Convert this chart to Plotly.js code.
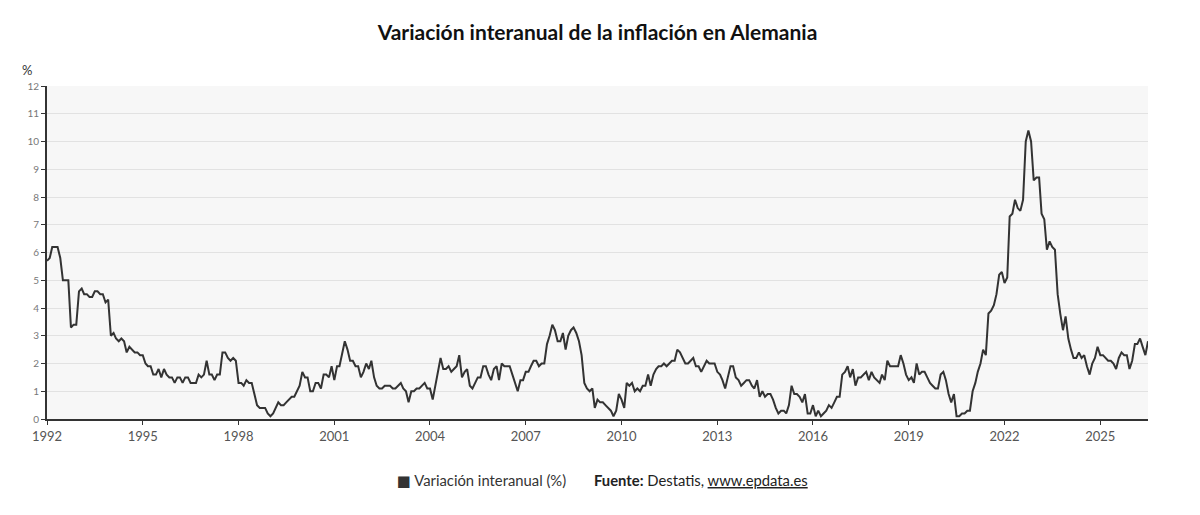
<!DOCTYPE html>
<html>
<head>
<meta charset="utf-8">
<script src="https://cdn.plot.ly/plotly-3.0.1.min.js"></script>
<style>
  html, body { margin: 0; padding: 0; background: #ffffff; }
  #chart { width: 1200px; height: 515px; }
</style>
</head>
<body>
<div id="chart"></div>
<script>
// Monthly series, January 1992 onwards (one row per year)
const startYear = 1992;
const inflacion = [
  5.7, 5.8, 6.2, 6.2, 6.2, 5.8, 5.0, 5.0, 5.0, 3.3, 3.4, 3.4, // 1992
  4.6, 4.7, 4.5, 4.5, 4.4, 4.4, 4.6, 4.6, 4.5, 4.5, 4.2, 4.3, // 1993
  3.0, 3.1, 2.9, 2.8, 2.9, 2.8, 2.4, 2.6, 2.5, 2.4, 2.4, 2.3, // 1994
  2.3, 2.0, 1.9, 1.9, 1.6, 1.6, 1.8, 1.5, 1.8, 1.6, 1.5, 1.5, // 1995
  1.3, 1.5, 1.5, 1.3, 1.5, 1.5, 1.3, 1.3, 1.3, 1.6, 1.5, 1.6, // 1996
  2.1, 1.6, 1.6, 1.4, 1.6, 1.6, 2.4, 2.4, 2.2, 2.1, 2.2, 2.1, // 1997
  1.3, 1.3, 1.2, 1.4, 1.3, 1.3, 0.9, 0.5, 0.4, 0.4, 0.4, 0.2, // 1998
  0.1, 0.2, 0.4, 0.6, 0.5, 0.5, 0.6, 0.7, 0.8, 0.8, 1.0, 1.2, // 1999
  1.7, 1.5, 1.5, 1.0, 1.0, 1.3, 1.3, 1.1, 1.6, 1.6, 1.5, 1.9, // 2000
  1.4, 1.9, 1.9, 2.3, 2.8, 2.5, 2.1, 2.1, 1.9, 1.9, 1.5, 1.7, // 2001
  2.0, 1.8, 2.1, 1.5, 1.2, 1.1, 1.1, 1.2, 1.2, 1.2, 1.1, 1.1, // 2002
  1.2, 1.3, 1.1, 1.0, 0.6, 1.0, 1.0, 1.1, 1.1, 1.2, 1.3, 1.1, // 2003
  1.1, 0.7, 1.2, 1.8, 2.2, 1.8, 1.8, 1.9, 1.7, 1.8, 1.9, 2.3, // 2004
  1.5, 1.7, 1.8, 1.2, 1.1, 1.3, 1.5, 1.5, 1.9, 1.9, 1.6, 1.4, // 2005
  1.8, 1.9, 1.4, 2.0, 1.9, 1.9, 1.9, 1.6, 1.3, 1.0, 1.4, 1.4, // 2006
  1.7, 1.7, 1.9, 2.1, 2.1, 1.9, 2.0, 2.0, 2.7, 3.0, 3.4, 3.2, // 2007
  2.8, 2.8, 3.1, 2.5, 3.0, 3.2, 3.3, 3.1, 2.8, 2.3, 1.3, 1.1, // 2008
  1.0, 1.1, 0.4, 0.7, 0.6, 0.6, 0.5, 0.4, 0.3, 0.1, 0.3, 0.9, // 2009
  0.7, 0.4, 1.3, 1.2, 1.3, 1.0, 1.1, 1.0, 1.2, 1.2, 1.6, 1.2, // 2010
  1.6, 1.8, 1.9, 1.9, 2.0, 1.9, 2.0, 2.1, 2.1, 2.5, 2.4, 2.2, // 2011
  2.0, 2.0, 2.1, 2.2, 1.9, 1.9, 1.7, 1.9, 2.1, 2.0, 2.0, 2.0, // 2012
  1.7, 1.6, 1.4, 1.1, 1.5, 1.9, 1.9, 1.5, 1.4, 1.2, 1.3, 1.4, // 2013
  1.4, 1.2, 1.1, 1.4, 0.8, 1.0, 0.8, 0.9, 0.9, 0.7, 0.4, 0.2, // 2014
  0.3, 0.3, 0.2, 0.5, 1.2, 0.9, 0.9, 0.8, 0.6, 0.9, 0.2, 0.2, // 2015
  0.5, 0.1, 0.3, 0.1, 0.2, 0.3, 0.5, 0.4, 0.6, 0.8, 0.8, 1.6, // 2016
  1.7, 1.9, 1.5, 1.8, 1.2, 1.5, 1.5, 1.6, 1.7, 1.4, 1.7, 1.5, // 2017
  1.4, 1.3, 1.6, 1.4, 2.1, 1.9, 1.9, 1.9, 1.9, 2.3, 2.0, 1.6, // 2018
  1.4, 1.5, 1.3, 2.0, 1.6, 1.7, 1.7, 1.5, 1.3, 1.2, 1.1, 1.1, // 2019
  1.6, 1.7, 1.4, 0.9, 0.6, 0.9, 0.1, 0.1, 0.2, 0.2, 0.3, 0.3, // 2020
  1.0, 1.3, 1.7, 2.0, 2.5, 2.3, 3.8, 3.9, 4.1, 4.5, 5.2, 5.3, // 2021
  4.9, 5.1, 7.3, 7.4, 7.9, 7.6, 7.5, 7.9, 10.0, 10.4, 10.0, 8.6, // 2022
  8.7, 8.7, 7.4, 7.2, 6.1, 6.4, 6.2, 6.1, 4.5, 3.8, 3.2, 3.7, // 2023
  2.9, 2.5, 2.2, 2.2, 2.4, 2.2, 2.3, 1.9, 1.6, 2.0, 2.2, 2.6, // 2024
  2.3, 2.3, 2.2, 2.1, 2.1, 2.0, 1.8, 2.2, 2.4, 2.3, 2.3, 1.8, // 2025
  2.1, 2.7, 2.7, 2.9, 2.6, 2.3, 2.8                           // 2026
];

const tickYears = ['1992', '1995', '1998', '2001', '2004', '2007', '2010', '2013', '2016', '2019', '2022', '2025'];

const titleText = 'Variación interanual de la inflación en Alemania';
const seriesName = 'Variación interanual (%)';
const sourceText = '<b>Fuente:</b> Destatis, <u>www.epdata.es</u>';

// month dates for the category axis
const fechas = inflacion.map(function (_, i) {
  const y = startYear + Math.floor(i / 12);
  const m = (i % 12) + 1;
  return y + '-' + (m < 10 ? '0' + m : m) + '-01';
});

const trace = {
  x: fechas,
  y: inflacion,
  type: 'scatter',
  mode: 'lines',
  name: seriesName,
  line: { color: '#333333', width: 2 },
  hoverinfo: 'x+y',
  showlegend: false
};

const W = 1200, H = 515;
const mL = 47, mR = 52, mT = 86, mB = 96;
const plotW = W - mL - mR, plotH = H - mT - mB;
function px(x) { return (x - mL) / plotW; }
function py(y) { return (H - mB - y) / plotH; }

const layout = {
  width: W,
  height: H,
  margin: { l: mL, r: mR, t: mT, b: mB, pad: 0 },
  paper_bgcolor: '#ffffff',
  plot_bgcolor: '#f7f7f7',
  font: { family: 'Lato, "DejaVu Sans", sans-serif', color: '#333333' },
  title: {
    text: titleText,
    x: 0.5,
    xanchor: 'center',
    xref: 'paper',
    y: 1 - 33 / H,
    yanchor: 'middle',
    font: { family: 'Lato, "DejaVu Sans", sans-serif', size: 21, color: '#111111', weight: 700 }
  },
  xaxis: {
    type: 'date',
    range: [fechas[0], fechas[fechas.length - 1]],
    tickvals: tickYears.map(function (y) { return y + '-01-01'; }),
    ticktext: tickYears,
    showgrid: false,
    zeroline: false,
    showline: true,
    linecolor: '#333333',
    linewidth: 2,
    ticks: 'outside',
    ticklen: 4,
    tickwidth: 1,
    tickcolor: '#333333',
    tickfont: { size: 13, color: '#555555', family: 'Lato, "DejaVu Sans", sans-serif' },
    fixedrange: true
  },
  yaxis: {
    range: [0, 12],
    dtick: 1,
    tick0: 0,
    showgrid: true,
    gridcolor: '#e2e2e2',
    gridwidth: 1,
    zeroline: false,
    showline: true,
    linecolor: '#333333',
    linewidth: 2,
    ticks: 'outside',
    ticklen: 4,
    tickwidth: 1,
    tickcolor: '#333333',
    tickfont: { size: 10, color: '#777777', family: 'Lato, "DejaVu Sans", sans-serif' },
    fixedrange: true
  },
  annotations: [
    {
      text: '%',
      xref: 'paper', yref: 'paper',
      x: px(20), y: py(70),
      xanchor: 'left', yanchor: 'middle',
      showarrow: false,
      font: { size: 13, color: '#333333' }
    },
    {
      text: '<span style="font-family:DejaVu Sans">■</span> ' + seriesName,
      xref: 'paper', yref: 'paper',
      x: px(395), y: py(480),
      xanchor: 'left', yanchor: 'middle',
      showarrow: false,
      font: { size: 14.8, color: '#333333' }
    },
    {
      text: sourceText,
      xref: 'paper', yref: 'paper',
      x: px(592), y: py(480),
      xanchor: 'left', yanchor: 'middle',
      showarrow: false,
      font: { size: 14.8, color: '#222222' }
    }
  ]
};

Plotly.newPlot('chart', [trace], layout, { displayModeBar: false, staticPlot: true });
</script>
</body>
</html>
